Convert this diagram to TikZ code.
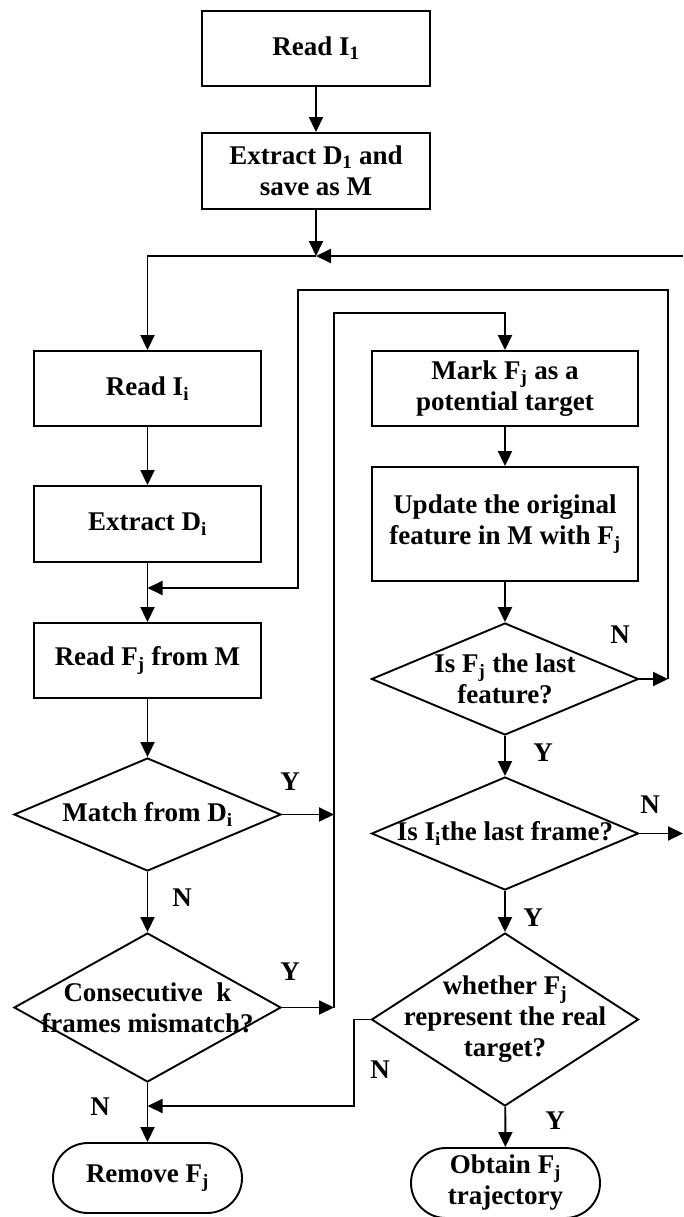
\documentclass[tikz,border=0pt]{standalone}
\usepackage{fontspec}
\setmainfont{Liberation Serif}
\usetikzlibrary{shapes.geometric,arrows.meta}
\newcommand{\idx}[1]{\textsubscript{#1}}
\begin{document}
\begin{tikzpicture}[x=1pt,y=-1pt,line width=1.9pt,
    every node/.style={font=\fontsize{27}{31}\selectfont\bfseries,inner sep=0pt,align=center},
    procbox/.style={draw,rectangle,line width=1.9pt},
    decide/.style={draw,diamond,line width=1.9pt,minimum width=267pt},
    termbox/.style={draw,rectangle,rounded corners=35pt,line width=1.9pt,minimum width=189pt,minimum height=70pt},
    arr/.style={-{Triangle[length=15pt,width=14pt]}}]
  \useasboundingbox (0,0) rectangle (683,1217);
  \node[procbox,minimum width=228pt,minimum height=75pt] (read1) at (316,48.5) {Read I\idx{1}};
  \node[procbox,minimum width=228pt,minimum height=76pt] (ext1) at (316,171) {Extract D\idx{1} and\\save as M};
  \node[procbox,minimum width=227pt,minimum height=75pt] (readi) at (147.5,388.5) {Read I\idx{i}};
  \node[procbox,minimum width=227pt,minimum height=76pt] (extdi) at (147.5,524) {Extract D\idx{i}};
  \node[procbox,minimum width=227pt,minimum height=75pt] (readf) at (147.5,660.5) {Read F\idx{j} from M};
  \node[decide,minimum height=113pt,label={center:Match from D\idx{i}}] (match) at (147.5,814.5) {};
  \node[decide,minimum height=149pt,label={[align=center]center:Consecutive~ k\\frames mismatch?}] (consec) at (147.5,1007.5) {};
  \node[termbox] (remove) at (147.5,1178) {Remove F\idx{j}};
  \node[procbox,minimum width=266pt,minimum height=75pt] (mark) at (505,388.5) {Mark F\idx{j} as a\\potential target};
  \node[procbox,minimum width=266pt,minimum height=114pt] (update) at (505,524) {Update the original\\feature in M with F\idx{j}};
  \node[decide,minimum height=112pt,label={[align=center]center:Is F\idx{j} the last\\feature?}] (lastfeat) at (505,679) {};
  \node[decide,minimum height=113pt,label={center:Is I\idx{i}the last frame?}] (lastframe) at (505,833.5) {};
  \node[decide,minimum height=173pt,label={[align=center]center:whether F\idx{j}\\represent the real\\target?}] (real) at (505,1019.5) {};
  \node[termbox] (obtain) at (505.5,1183) {Obtain F\idx{j}\\trajectory};
  \node (yMatch) at (290,782) {Y};
  \node (nMatch) at (182,898) {N};
  \node (yConsec) at (290,972) {Y};
  \node (nConsec) at (100,1107) {N};
  \node (nLastfeat) at (620,635) {N};
  \node (yLastfeat) at (543,753) {Y};
  \node (nLastframe) at (650,805) {N};
  \node (yLastframe) at (533,918) {Y};
  \node (nReal) at (380,1070) {N};
  \node (yReal) at (555,1121) {Y};
  \coordinate (join1) at (316,256);
  \coordinate (entR) at (683,256);
  \coordinate (exitR) at (683,833.5);
  \coordinate (join2) at (147.5,588);
  \coordinate (join3) at (147.5,1106);
  \coordinate (innerT) at (334,313);
  \coordinate (innerM) at (334,814.5);
  \coordinate (innerB) at (334,1007.5);
  \coordinate (outerR) at (668,679);
  \coordinate (outerTR) at (668,290);
  \coordinate (outerTL) at (298,290);
  \coordinate (realLT) at (354,1019.5);
  \coordinate (realLB) at (354,1106);
  \begin{scope}[arr]
    \foreach \a/\b in {read1/ext1,readi/extdi,extdi/readf,readf/match,match/consec,consec/remove,
                       mark/update,update/lastfeat,lastfeat/lastframe,lastframe/real,real/obtain}
      \draw (\a) -- (\b);
    \draw (ext1) -- (join1);
    \draw (entR) -- (join1);
    \draw (join1) -| (readi);
    \draw (match) -- (innerM);
    \draw (consec) -- (innerB);
    \draw (innerB) -- (innerT) -| (mark);
    \draw (lastfeat) -- (outerR);
    \draw (outerR) -- (outerTR) -- (outerTL) |- (join2);
    \draw (lastframe) -- (exitR);
    \draw (real) -- (realLT) -- (realLB) -- (join3);
  \end{scope}
\end{tikzpicture}
\end{document}
